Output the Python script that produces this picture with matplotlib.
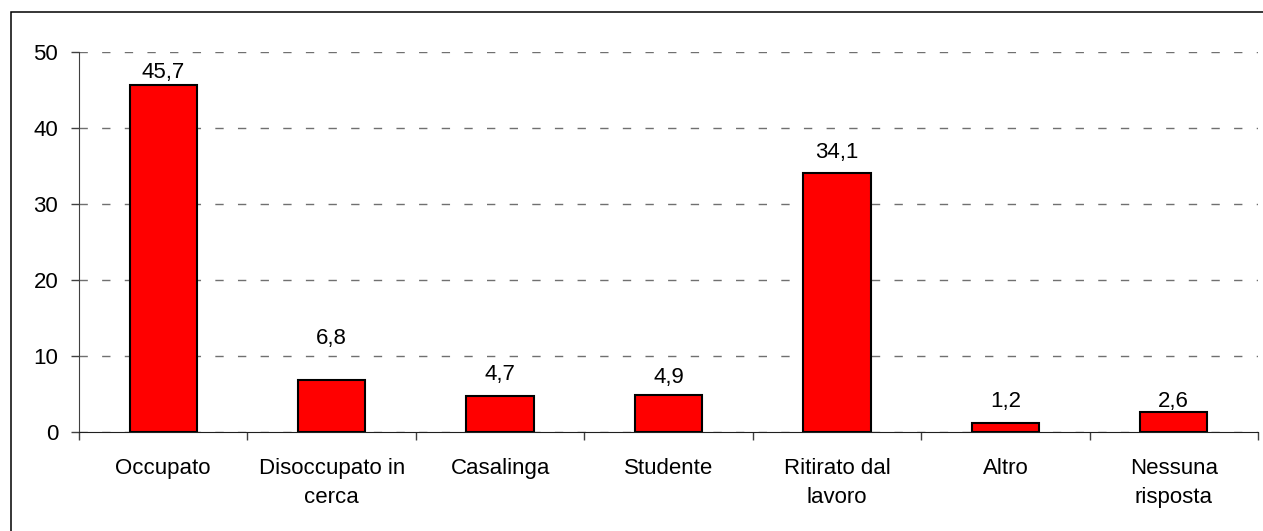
#!/usr/bin/env python3

import matplotlib
matplotlib.use("Agg")
import matplotlib.pyplot as plt
from matplotlib.patches import Rectangle

categories = ["Occupato", "Disoccupato in\ncerca", "Casalinga", "Studente",
              "Ritirato dal\nlavoro", "Altro", "Nessuna\nrisposta"]
values = [45.7, 6.8, 4.7, 4.9, 34.1, 1.2, 2.6]
yticks = [0, 10, 20, 30, 40, 50]

# where each value label sits above its bar (pixels), as in the original
label_offsets = [12, 42, 22, 17, 20, 21, 11]

plt.rcParams["font.family"] = ["Liberation Sans", "DejaVu Sans"]

W, H = 1263, 531
fs = 16
fig = plt.figure(figsize=(W / 100, H / 100), dpi=100)
ax = fig.add_axes([79 / W, 1 - 432 / H, (1258 - 79) / W, (432 - 52) / H])

x = list(range(len(categories)))
ax.bar(x, values, width=0.4, color="#ff0000", edgecolor="black",
       linewidth=1.5, zorder=3)

for xi, v, off in zip(x, values, label_offsets):
    ax.annotate("{:.1f}".format(v).replace(".", ","), (xi, v),
                xytext=(0, off * 0.72), textcoords="offset points",
                ha="center", va="center", fontsize=fs, zorder=4)

ax.set_xlim(-0.5, len(categories) - 0.5)
ax.set_ylim(0, 50)

ax.set_yticks(yticks)
ax.set_yticklabels([str(t) for t in yticks], fontsize=fs)
ax.tick_params(axis="y", length=6, width=1, color="#404040", pad=9)

ax.set_xticks(x)
ax.set_xticklabels(categories, fontsize=fs, linespacing=1.5)
ax.tick_params(axis="x", which="major", length=0, pad=19)
ax.set_xticks([i - 0.5 for i in range(len(categories) + 1)], minor=True)
ax.tick_params(axis="x", which="minor", length=6, width=1, color="#404040")

ax.yaxis.grid(True, color="#707070", linewidth=1, linestyle=(0, (6, 10.3)),
              zorder=0)
ax.set_axisbelow(True)

for s in ["top", "right"]:
    ax.spines[s].set_visible(False)
ax.spines["left"].set_color("#404040")
ax.spines["bottom"].set_color("#202020")

fig.patches.append(Rectangle((11 / W, -0.05), 1.2, (H - 12) / H + 0.05,
                             transform=fig.transFigure, fill=False,
                             edgecolor="black", linewidth=1.1))

plt.savefig("out.png", dpi=100)
